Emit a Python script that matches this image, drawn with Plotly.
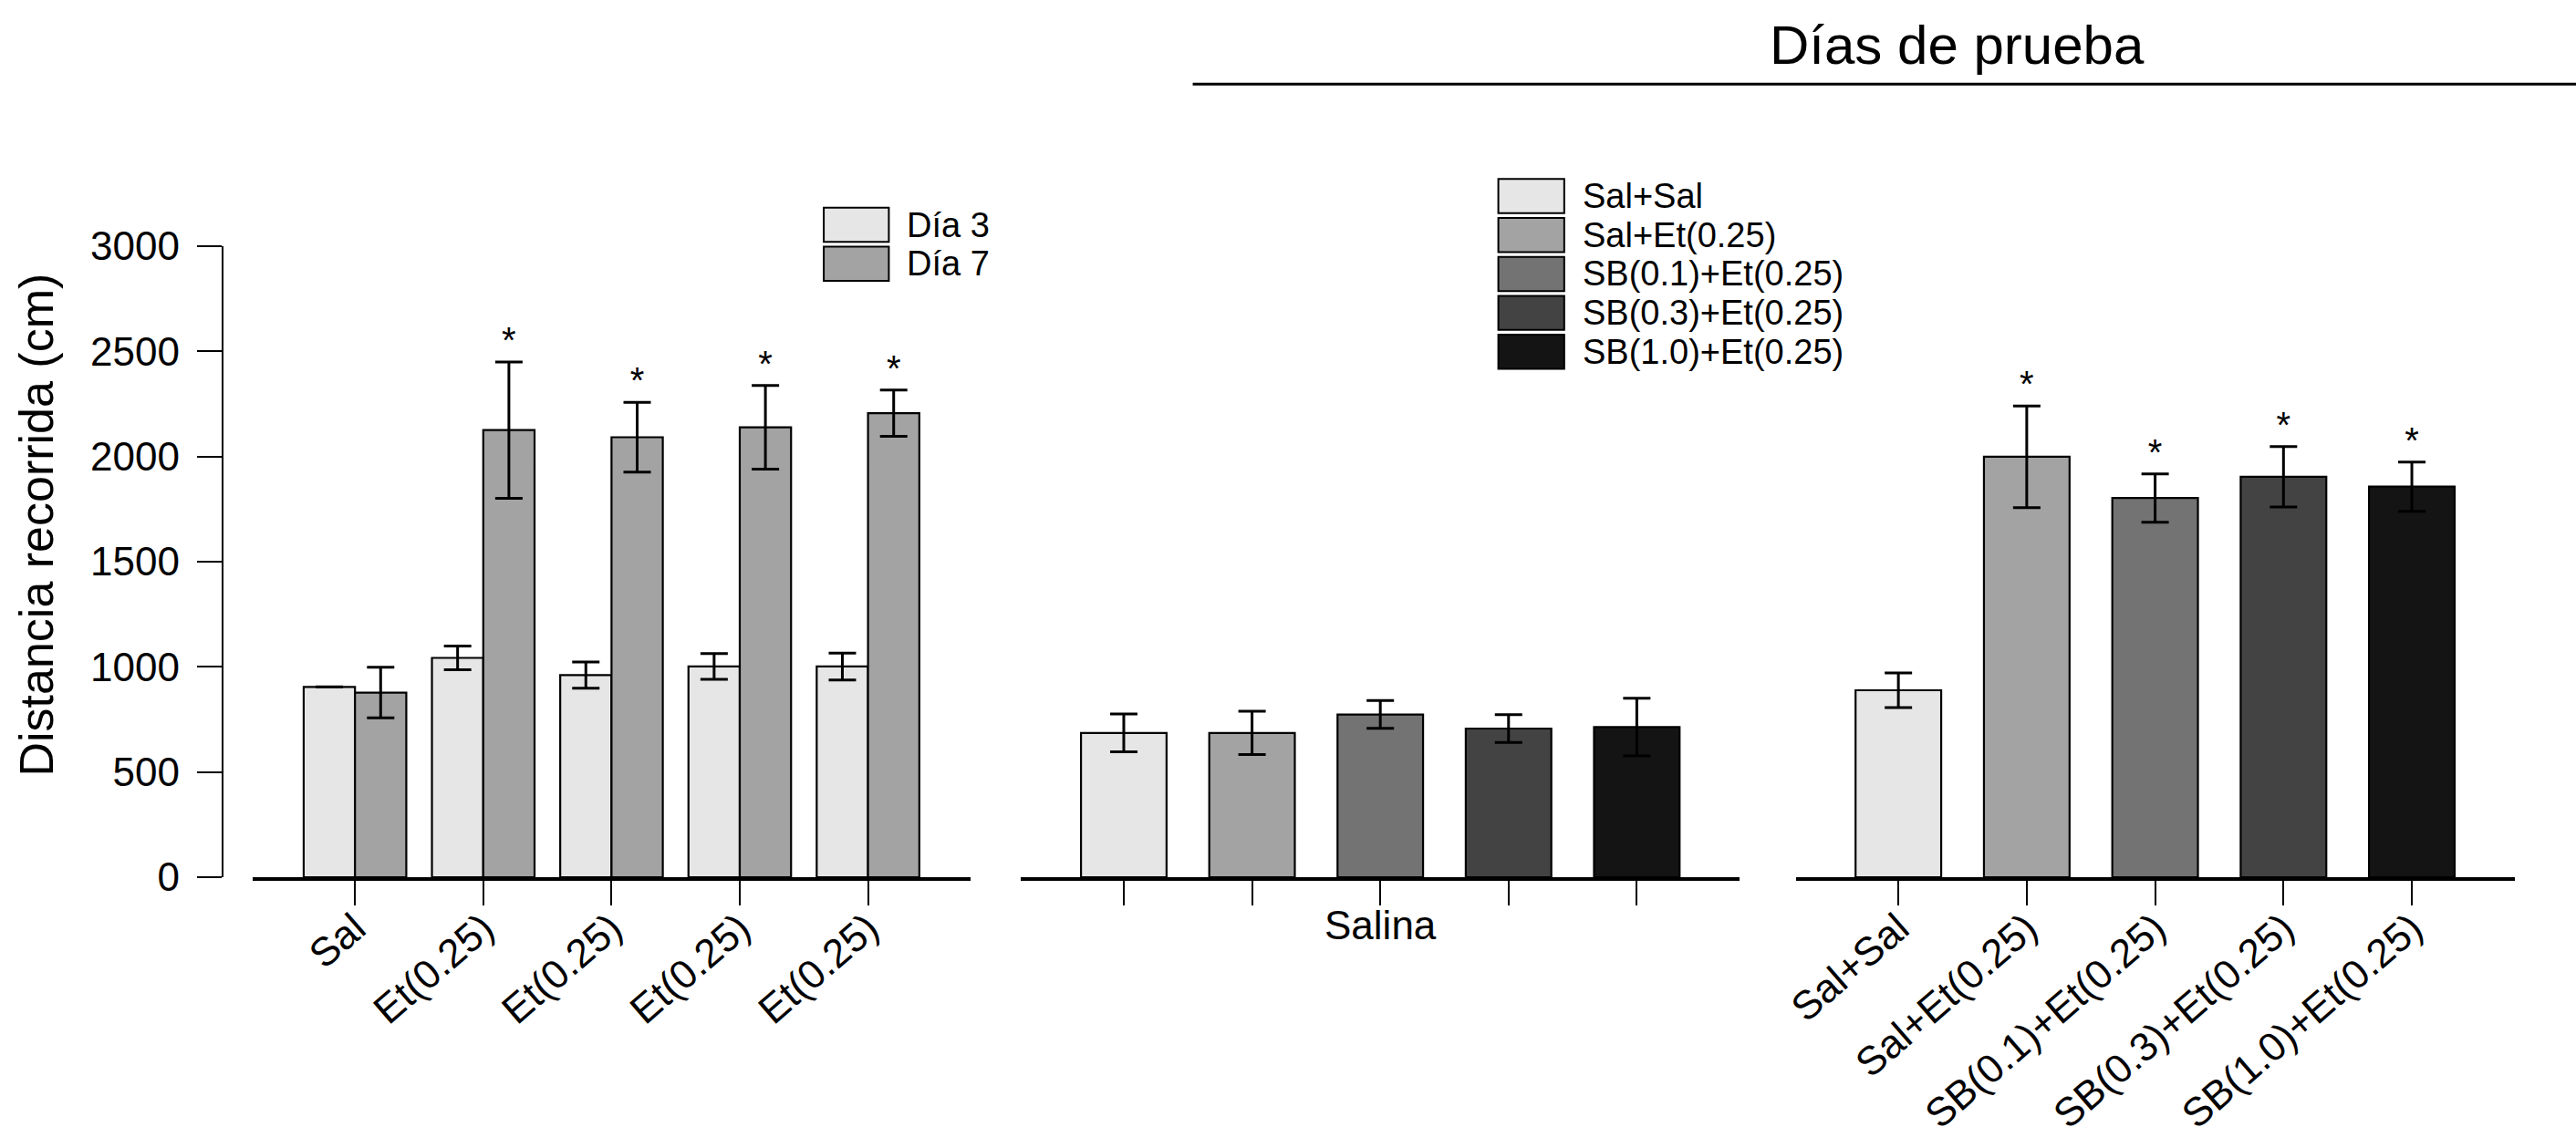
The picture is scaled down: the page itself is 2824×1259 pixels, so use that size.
import numpy as np
import plotly.graph_objects as go

# ---- data ----
pre_groups = ["Sal", "Et(0.25)", "Et(0.25)", "Et(0.25)", "Et(0.25)"]
dia3_mean = [905, 1043, 961, 1002, 1002]
dia3_err = [0, 56, 62, 61, 64]
dia7_mean = [878, 2126, 2092, 2139, 2206]
dia7_err = [120, 324, 166, 199, 110]
dia7_sig = [False, True, True, True, True]

treatments = ["Sal+Sal", "Sal+Et(0.25)", "SB(0.1)+Et(0.25)", "SB(0.3)+Et(0.25)", "SB(1.0)+Et(0.25)"]
salina_mean = [686, 686, 774, 707, 714]
salina_err = [90, 103, 66, 66, 137]
prueba_mean = [889, 1999, 1803, 1904, 1857]
prueba_err = [82, 242, 115, 144, 117]
prueba_sig = [False, True, True, True, True]

day_labels = ["Día 3", "Día 7"]
day_colors = ["#e6e6e6", "#a3a3a3"]
treat_colors = ["#e6e6e6", "#a3a3a3", "#737373", "#434343", "#141414"]

W, H = 2824, 1259
FONT = "Liberation Sans, Arial, Helvetica, sans-serif"
BAR_W = 0.4


def px(x):
    return x / W


def py(y):
    return 1 - y / H


outline = dict(color="black", width=2.2)
err_style = dict(type="data", thickness=3, width=15, color="black")

fig = go.Figure()

# panel 1: pretreatment days 3 / 7
pos = np.arange(len(pre_groups))
fig.add_trace(go.Bar(
    x=pos, y=dia3_mean, width=BAR_W, offset=-BAR_W, name=day_labels[0],
    marker=dict(color=day_colors[0], line=outline),
    error_y=dict(array=dia3_err, **err_style), xaxis="x", yaxis="y",
))
fig.add_trace(go.Bar(
    x=pos, y=dia7_mean, width=BAR_W, offset=0, name=day_labels[1],
    marker=dict(color=day_colors[1], line=outline),
    error_y=dict(array=dia7_err, **err_style), xaxis="x", yaxis="y",
))
fig.add_trace(go.Scatter(
    x=pos + BAR_W / 2, y=np.array(dia7_mean) + np.array(dia7_err),
    text=["*" if s else "" for s in dia7_sig], mode="text",
    textposition="top center", textfont=dict(size=40, color="black"),
    cliponaxis=False, xaxis="x", yaxis="y", showlegend=False,
))

# panel 2: salina test day
fig.add_trace(go.Bar(
    x=treatments, y=salina_mean, width=0.667,
    marker=dict(color=treat_colors, line=outline),
    error_y=dict(array=salina_err, **err_style), xaxis="x2", yaxis="y",
))

# panel 3: test day
fig.add_trace(go.Bar(
    x=treatments, y=prueba_mean, width=0.667,
    marker=dict(color=treat_colors, line=outline),
    error_y=dict(array=prueba_err, **err_style), xaxis="x3", yaxis="y",
))
fig.add_trace(go.Scatter(
    x=treatments, y=np.array(prueba_mean) + np.array(prueba_err),
    text=["*" if s else "" for s in prueba_sig], mode="text",
    textposition="top center", textfont=dict(size=40, color="black"),
    cliponaxis=False, xaxis="x3", yaxis="y", showlegend=False,
))

xbase = dict(
    showline=True, linecolor="black", linewidth=3.5, ticks="outside",
    ticklen=27, tickwidth=2, tickcolor="black", showgrid=False,
    zeroline=False, anchor="y", range=[-0.8, 4.8],
    tickfont=dict(size=44, color="black"), ticklabelstandoff=-18,
)

shapes = [
    dict(type="line", xref="paper", yref="paper", x0=px(1300), x1=1,
         y0=py(70), y1=py(70), line=dict(color="black", width=3)),
]
annotations = [
    dict(text="Días de prueba", x=px(2142), y=py(26), xref="paper", yref="paper",
         showarrow=False, xanchor="center", yanchor="middle",
         font=dict(size=60, color="black")),
    dict(text="Distancia recorrida (cm)", x=px(26), y=py(573), xref="paper",
         yref="paper", showarrow=False, textangle=-90, xanchor="center",
         yanchor="middle", font=dict(size=52, color="black")),
]

# legends drawn as boxes + labels
def add_legend(labels, colors, x0, x1, top, step=44.4, h=39):
    for i, (lab, col) in enumerate(zip(labels, colors)):
        t = top + i * step
        shapes.append(dict(type="rect", xref="paper", yref="paper",
                           x0=px(x0), x1=px(x1), y0=py(t + h), y1=py(t),
                           fillcolor=col, line=dict(color="black", width=2)))
        annotations.append(dict(text=lab, x=px(x1 + 18), y=py(t + h / 2),
                                xref="paper", yref="paper", showarrow=False,
                                xanchor="left", yanchor="middle",
                                font=dict(size=38, color="black")))


add_legend(day_labels, day_colors, 893.5, 965.2, 211)
add_legend(treatments, treat_colors, 1636.7, 1709.3, 178.3)

fig.update_layout(
    width=W, height=H,
    margin=dict(l=0, r=0, t=0, b=0),
    paper_bgcolor="white", plot_bgcolor="white",
    font=dict(family=FONT, color="black"),
    barmode="overlay", showlegend=False,
    xaxis=dict(xbase, domain=[px(264), px(1055.3)], tickvals=pos,
               ticktext=pre_groups, tickangle=-41),
    xaxis2=dict(xbase, domain=[px(1111), px(1902.3)], showticklabels=False,
                title=dict(text="Salina", font=dict(size=44), standoff=8)),
    xaxis3=dict(xbase, domain=[px(1964.3), px(2756.3)], tickangle=-41),
    yaxis=dict(
        domain=[py(975), py(255)], range=[0, 3000], tickvals=list(range(0, 3001, 500)),
        anchor="free", position=px(231), showline=True, linecolor="black",
        linewidth=2.2, ticks="outside", ticklen=27, tickwidth=2, tickcolor="black",
        showgrid=False, zeroline=False, tickfont=dict(size=44, color="black"),
        ticklabelstandoff=10,
    ),
    shapes=shapes,
    annotations=annotations,
)

# page without body margin so the figure fills the window exactly
fig.write_html("out.html", config={"displayModeBar": False},
               post_script="document.body.style.margin='0';")
